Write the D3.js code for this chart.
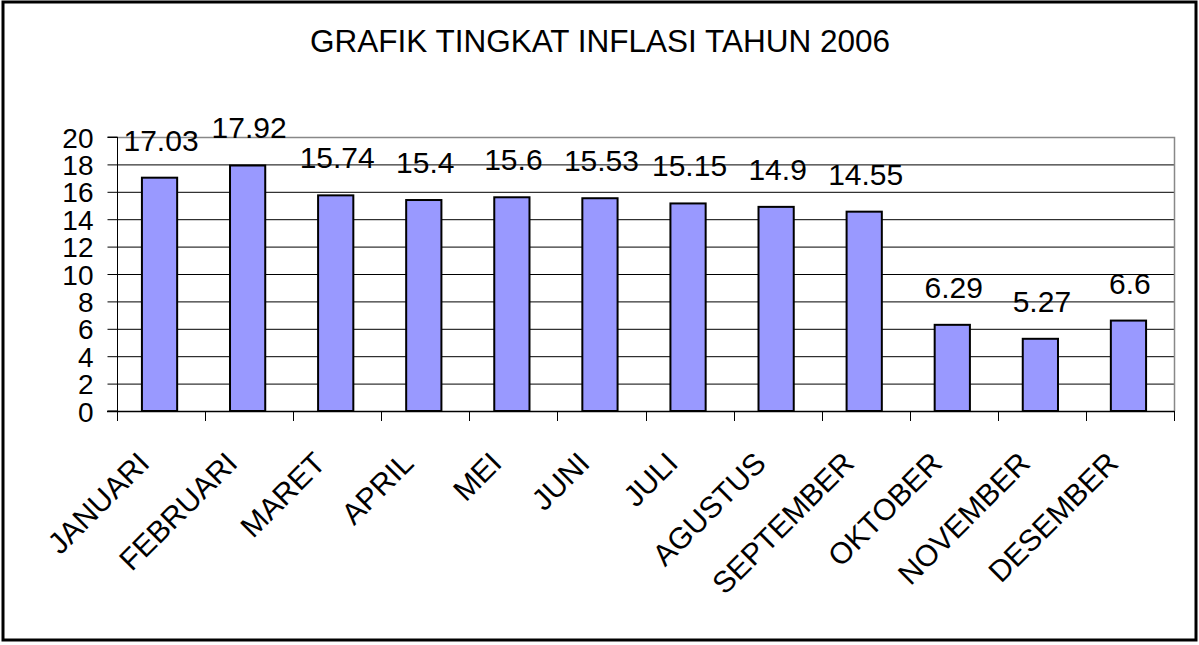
<!DOCTYPE html>
<head>
<meta charset="utf-8">
<title>Grafik Tingkat Inflasi 2006</title>
<style>
body { margin: 0; background: #fff; }
svg { font-family: "Liberation Sans", Arial, sans-serif; }
.grid line { stroke: #000; stroke-width: 1; }
.axis path, .axis line { stroke: #000; }
</style>
</head>
<body>
<svg id="chart"></svg>
<script src="https://d3js.org/d3.v7.min.js"></script>
<script>

var months = ["JANUARI", "FEBRUARI", "MARET", "APRIL", "MEI", "JUNI",
              "JULI", "AGUSTUS", "SEPTEMBER", "OKTOBER", "NOVEMBER", "DESEMBER"];
var inflasi = [17.03, 17.92, 15.74, 15.4, 15.6, 15.53, 15.15, 14.9, 14.55, 6.29, 5.27, 6.6];
var yTicks = [0, 2, 4, 6, 8, 10, 12, 14, 16, 18, 20];
var title = "GRAFIK TINGKAT INFLASI TAHUN 2006";

var W = 1199, H = 645;
var plot = {left: 117, top: 137, right: 1174, bottom: 411};

var svg = d3.select("#chart").attr("width", W).attr("height", H);

// outer frame
svg.append("rect")
    .attr("x", 3).attr("y", 2)
    .attr("width", 1193).attr("height", 638)
    .attr("fill", "#fff").attr("stroke", "#000").attr("stroke-width", 3);

svg.append("text")
    .attr("x", 600).attr("y", 52)
    .attr("text-anchor", "middle")
    .style("font-size", "31.5px")
    .text(title);

var x = d3.scaleBand()
    .domain(months)
    .range([plot.left, plot.right]);

var y = d3.scaleLinear()
    .domain([0, 20])
    .range([plot.bottom, plot.top]);

// gridlines
svg.append("g").attr("class", "grid")
  .selectAll("line")
  .data(yTicks.filter(function(d) { return d > 0 && d < 20; }))
  .enter().append("line")
    .attr("x1", plot.left).attr("x2", plot.right)
    .attr("y1", function(d) { return y(d) + 0.5; })
    .attr("y2", function(d) { return y(d) + 0.5; });

// plot border (top + right)
svg.append("path")
    .attr("d", "M" + plot.left + "," + (plot.top + 0.5) + "H" + (plot.right + 0.5) + "V" + plot.bottom)
    .attr("fill", "none").attr("stroke", "#888").attr("stroke-width", 1.5);

// bars
var bw = x.bandwidth() * 0.4;
svg.append("g")
  .selectAll("rect")
  .data(inflasi)
  .enter().append("rect")
    .attr("x", function(d, i) { return x(months[i]) + x.bandwidth() / 2 - bw / 2 - 1.5; })
    .attr("y", function(d) { return y(d); })
    .attr("width", bw)
    .attr("height", function(d) { return y(0) - y(d); })
    .attr("fill", "#9999ff")
    .attr("stroke", "#000")
    .attr("stroke-width", 2);

// value labels
svg.append("g")
  .selectAll("text")
  .data(inflasi)
  .enter().append("text")
    .attr("x", function(d, i) { return x(months[i]) + x.bandwidth() / 2; })
    .attr("y", function(d) { return y(d) - 27; })
    .attr("text-anchor", "middle")
    .style("font-size", "30px")
    .text(function(d) { return d; });

// y axis
var yAxis = d3.axisLeft(y).tickValues(yTicks).tickSize(10).tickPadding(14);
var gy = svg.append("g").attr("class", "axis")
    .attr("transform", "translate(" + (plot.left + 0.5) + ",0)")
    .call(yAxis);
gy.select(".domain").attr("d", "M-10," + plot.top + "H0V" + plot.bottom + "H-10");
gy.selectAll("text").style("font-size", "28px").attr("dy", "0.36em").attr("fill", "#000");

// x axis
var xTicks = d3.range(13);
svg.append("g").attr("class", "axis")
  .selectAll("line")
  .data(xTicks)
  .enter().append("line")
    .attr("x1", function(i) { return Math.round(plot.left + i * x.step()) + 0.5; })
    .attr("x2", function(i) { return Math.round(plot.left + i * x.step()) + 0.5; })
    .attr("y1", plot.bottom).attr("y2", plot.bottom + 10);
svg.append("line")
    .attr("x1", plot.left - 10).attr("x2", plot.right + 0.5)
    .attr("y1", plot.bottom + 0.5).attr("y2", plot.bottom + 0.5)
    .attr("stroke", "#000").attr("stroke-width", 1.5);

svg.append("g")
  .selectAll("text")
  .data(months)
  .enter().append("text")
    .attr("transform", function(d) {
      return "translate(" + (x(d) + x.bandwidth() / 2 - 10) + "," + (plot.bottom + 54) + ") rotate(-45)";
    })
    .attr("text-anchor", "end")
    .style("font-size", "30px")
    .text(function(d) { return d; });

</script>
</body>
